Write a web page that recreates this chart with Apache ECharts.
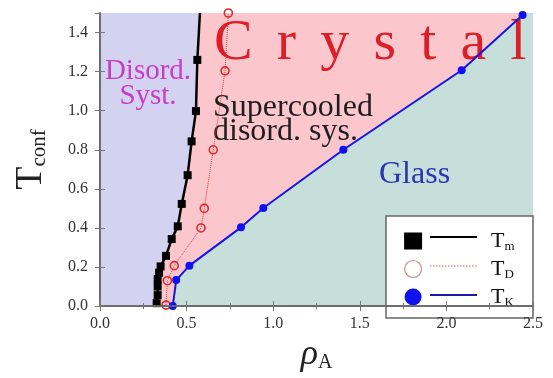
<!DOCTYPE html>
<html>
<head>
<meta charset="utf-8">
<script src="https://cdn.jsdelivr.net/npm/echarts@6/dist/echarts.min.js"></script>
<style>html,body{margin:0;padding:0;background:#fff}#c{width:553px;height:378px}</style>
</head>
<body>
<div id="c"></div>
<script>
// ---- data ----
const xTicks = [0.0, 0.5, 1.0, 1.5, 2.0, 2.5];
const yTicks = [0.0, 0.2, 0.4, 0.6, 0.8, 1.0, 1.2, 1.4];
// T_m (melting line, black squares)
const tmX = [0.327, 0.333, 0.333, 0.333, 0.341, 0.350, 0.381, 0.414, 0.449, 0.472, 0.506, 0.529, 0.554, 0.562, 0.577];
const tmY = [0.015, 0.056, 0.100, 0.138, 0.171, 0.203, 0.257, 0.343, 0.408, 0.523, 0.670, 0.843, 0.998, 1.260, 1.500];
// T_D (red open circles, dotted)
const tdX = [0.381, 0.389, 0.429, 0.583, 0.602, 0.654, 0.722, 0.741];
const tdY = [0.005, 0.130, 0.207, 0.400, 0.500, 0.800, 1.204, 1.500];
// T_K (blue filled circles)
const tkX = [0.420, 0.440, 0.516, 0.814, 0.943, 1.405, 2.088, 2.440];
const tkY = [0.000, 0.133, 0.207, 0.403, 0.502, 0.800, 1.207, 1.490];

const X_MIN = 0, X_MAX = 2.5, Y_MIN = 0, Y_MAX = 1.5;

const zip = (xs, ys) => xs.map((x, i) => [x, ys[i]]);
const tm = zip(tmX, tmY), td = zip(tdX, tdY), tk = zip(tkX, tkY);

// region polygons built from the curves
const pinkRegion = [[tmX[0], Y_MIN]].concat(tm, [[tkX[tkX.length - 1], Y_MAX]], tk.slice().reverse());
const tealRegion = tk.concat([[X_MAX, Y_MAX], [X_MAX, Y_MIN]]);
const regions = [pinkRegion, tealRegion];
const regionColors = ['#fcc6cd', '#c6dfdb'];

const SERIF = '"Liberation Serif", "Times New Roman", serif';
const chart = echarts.init(document.getElementById('c'));

const axisCommon = {
  min: 0, z: 10,
  axisLine: { show: true, lineStyle: { color: '#666', width: 1.5 } },
  axisTick: { show: true, inside: true, length: 5, lineStyle: { color: '#777' } },
  splitLine: { show: false }
};

// legend row layout (decoration)
const LEG_TOP = 225, LEG_ROW = 29;
const legLines = [
  { color: '#000', width: 2, dash: null },
  { color: '#d86060', width: 1.2, dash: [1.5, 1.5] },
  { color: '#1a1aa8', width: 2, dash: null }
];

chart.setOption({
  animation: false,
  grid: { left: 100, right: 20, top: 13, bottom: 60, show: true, backgroundColor: '#d3d3f1', borderWidth: 0 },
  xAxis: [
    Object.assign({}, axisCommon, {
      type: 'value', position: 'bottom', max: X_MAX, interval: 0.5,
      minorTick: { show: true, splitNumber: 2, length: 3, lineStyle: { color: '#777' } },
      axisLabel: { fontFamily: SERIF, fontSize: 16, color: '#333', margin: 10,
        formatter: v => xTicks.some(t => Math.abs(t - v) < 1e-9) ? v.toFixed(1) : '' },
      name: '{r|ρ}{s|A}', nameLocation: 'middle', nameGap: 29,
      nameTextStyle: { rich: {
        r: { fontFamily: SERIF, fontStyle: 'italic', fontSize: 36, color: '#222', lineHeight: 36 },
        s: { fontFamily: SERIF, fontSize: 20, color: '#222', lineHeight: 20, verticalAlign: 'bottom' }
      } }
    }),
    Object.assign({}, axisCommon, {
      type: 'value', position: 'top', max: X_MAX, interval: 0.5,
      minorTick: { show: true, splitNumber: 2, length: 3, lineStyle: { color: '#777' } },
      axisLabel: { show: false }
    })
  ],
  yAxis: [
    Object.assign({}, axisCommon, {
      type: 'value', position: 'left', max: Y_MAX, interval: 0.2,
      axisLabel: { fontFamily: SERIF, fontSize: 16, color: '#333', margin: 12, showMaxLabel: false,
        formatter: v => yTicks.some(t => Math.abs(t - v) < 1e-9) ? v.toFixed(1) : '' },
      name: '{t|T}{s|conf}', nameLocation: 'middle', nameGap: 50, nameRotate: 90,
      nameTextStyle: { rich: {
        t: { fontFamily: SERIF, fontSize: 38, color: '#222', lineHeight: 38 },
        s: { fontFamily: SERIF, fontSize: 21, color: '#222', lineHeight: 21, verticalAlign: 'bottom' }
      } }
    }),
    Object.assign({}, axisCommon, {
      type: 'value', position: 'right', max: Y_MAX, interval: 0.2,
      axisLabel: { show: false }
    })
  ],
  legend: {
    orient: 'vertical', left: 399, top: LEG_TOP, itemWidth: 18, itemHeight: 17, itemGap: LEG_ROW - 24,
    selectedMode: false, z: 6,
    data: [
      { name: 'Tm', icon: 'rect', itemStyle: { color: '#000' } },
      { name: 'TD', icon: 'circle', itemStyle: { color: '#fff', borderColor: '#c99090', borderWidth: 1.2 } },
      { name: 'TK', icon: 'circle', itemStyle: { color: '#1010f0' } }
    ],
    formatter: function (name) {
      return '{sp|}{t|T}{s|' + name.slice(1) + '}';
    },
    textStyle: {
      rich: {
        sp: { width: 64, lineHeight: 24 },
        t: { fontFamily: SERIF, fontSize: 22, color: '#111', lineHeight: 24 },
        s: { fontFamily: SERIF, fontSize: 13, color: '#111', lineHeight: 13, verticalAlign: 'bottom' }
      }
    }
  },
  graphic: [
    { type: 'rect', z: 5, shape: { x: 386, y: 216, width: 147, height: 102 },
      style: { fill: '#fff', stroke: '#666', lineWidth: 1.5 } },
    ...legLines.map((l, i) => ({
      type: 'line', z: 7, shape: { x1: 430, y1: LEG_TOP + 12 + i * LEG_ROW, x2: 477, y2: LEG_TOP + 12 + i * LEG_ROW },
      style: { stroke: l.color, lineWidth: l.width, lineDash: l.dash }
    })),
    { type: 'text', z: 2, style: { x: 214, y: 44, text: 'C \u2006r \u2006y \u2006s \u2006t \u2006a \u2006l', fill: '#dc1f27',
        font: '58px "Liberation Serif"', textAlign: 'left', textVerticalAlign: 'middle' } },
    { type: 'text', z: 2, style: { x: 148, y: 59, text: 'Disord.\nSyst.', fill: '#c83cc8',
        font: '29px "Liberation Serif"', lineHeight: 25, textAlign: 'center', textVerticalAlign: 'top' } },
    { type: 'text', z: 2, style: { x: 213, y: 96, text: 'Supercooled\ndisord. sys.', fill: '#1e1e1e',
        font: '32px "Liberation Serif"', lineHeight: 24, textAlign: 'left', textVerticalAlign: 'top' } },
    { type: 'text', z: 2, style: { x: 379, y: 159, text: 'Glass', fill: '#2a36b0',
        font: '32px "Liberation Serif"', textAlign: 'left', textVerticalAlign: 'top' } }
  ],
  series: [
    {
      type: 'custom', z: 1, silent: true, clip: true,
      data: [[0, 0], [0, 0]],
      renderItem: function (params, api) {
        const pts = regions[params.dataIndex].map(p => api.coord(p));
        return { type: 'polygon', shape: { points: pts }, style: { fill: regionColors[params.dataIndex] } };
      }
    },
    {
      name: 'TD', type: 'line', z: 3, data: td, symbol: 'circle', symbolSize: 8,
      lineStyle: { color: '#e03a3a', width: 1, type: 'dotted' },
      itemStyle: { color: 'rgba(0,0,0,0)', borderColor: '#e02828', borderWidth: 1.6 }
    },
    {
      name: 'TK', type: 'line', z: 3, data: tk, symbol: 'circle', symbolSize: 8,
      lineStyle: { color: '#1616e0', width: 2 },
      itemStyle: { color: '#1010f0' }
    },
    {
      name: 'Tm', type: 'line', z: 4,
      data: tm.map((p, i) => i === tm.length - 1 ? { value: p, symbol: 'none' } : p),
      symbol: 'rect', symbolSize: 8,
      lineStyle: { color: '#000', width: 2.5 },
      itemStyle: { color: '#000' }
    }
  ]
});
</script>
</body>
</html>
